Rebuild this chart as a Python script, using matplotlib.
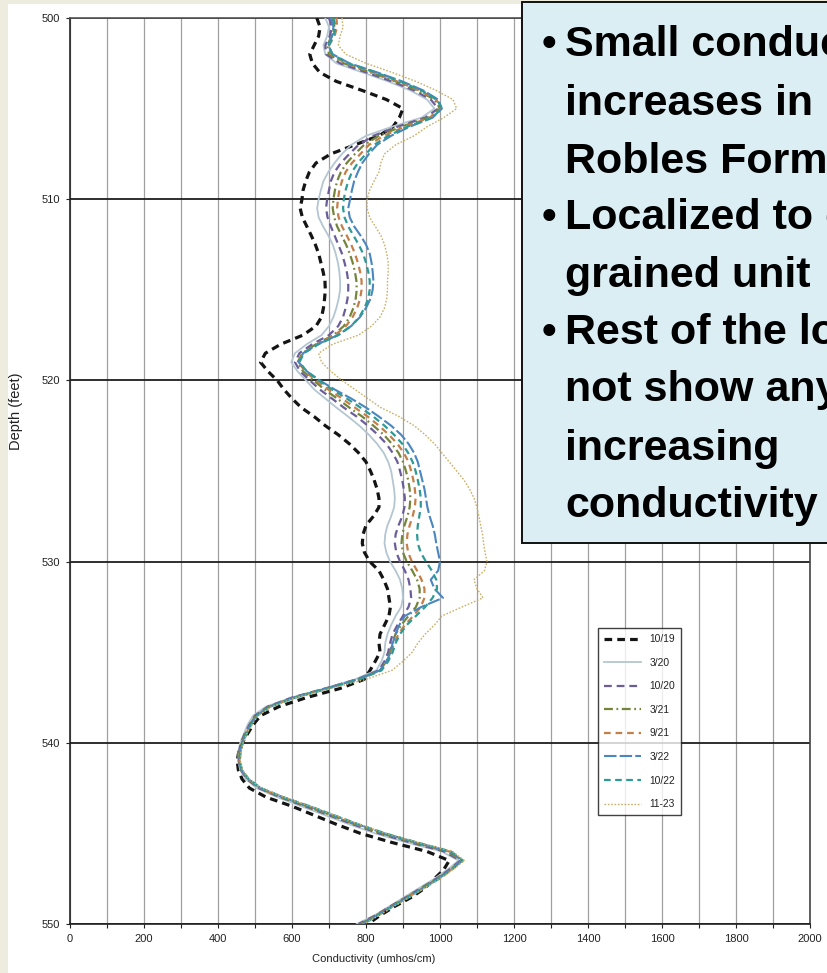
import numpy as np
import matplotlib
matplotlib.use("Agg")
import matplotlib.pyplot as plt
from matplotlib.patches import Rectangle
from matplotlib.ticker import MultipleLocator

plt.rcParams["font.family"] = ["Liberation Sans", "DejaVu Sans"]

# Depth grid of the induction log (feet below ground), one reading every half foot
depth = np.arange(500.0, 550.01, 0.5)

# Conductivity (umhos/cm) for each logging event, listed from 500 ft to 550 ft
cond_1019 = [667, 676, 672, 660, 648, 655, 675, 720, 790, 855,
             900, 890, 873, 835, 770, 705, 665, 647, 637, 630,
             627, 622, 628, 640, 652, 663, 672, 678, 684, 689,
             690, 688, 685, 680, 665, 630, 570, 528, 515, 535,
             560, 578, 600, 625, 660, 690, 725, 755, 780, 800,
             812, 822, 830, 835, 835, 820, 800, 792, 790, 796,
             810, 835, 848, 858, 862, 866, 862, 850, 838, 835,
             838, 825, 811, 795, 730, 640, 565, 515, 495, 480,
             465, 456, 452, 455, 465, 485, 530, 600, 660, 720,
             785, 870, 965, 1025, 1010, 985, 960, 925, 880, 840,
             805]

cond_320 = [690, 700, 695, 685, 690, 720, 790, 860, 920, 965,
            985, 950, 870, 800, 760, 735, 715, 698, 685, 678,
            672, 668, 672, 684, 698, 710, 718, 724, 728, 730,
            730, 726, 720, 712, 700, 680, 640, 608, 598, 615,
            638, 660, 690, 720, 752, 782, 808, 830, 848, 860,
            868, 872, 876, 878, 876, 868, 858, 852, 850, 855,
            865, 880, 892, 898, 900, 895, 880, 868, 858, 852,
            850, 842, 828, 770, 690, 600, 530, 495, 480, 470,
            460, 455, 455, 460, 475, 505, 560, 625, 690, 755,
            825, 910, 1005, 1050, 1020, 985, 945, 905, 865, 825,
            775]

cond_1020 = [700, 708, 702, 690, 692, 730, 800, 870, 930, 975,
             995, 960, 885, 820, 780, 755, 732, 715, 705, 700,
             695, 692, 696, 705, 715, 725, 735, 742, 748, 752,
             752, 750, 745, 738, 725, 700, 655, 620, 608, 622,
             648, 675, 708, 740, 775, 805, 832, 855, 872, 885,
             892, 898, 902, 905, 904, 898, 888, 880, 878, 882,
             892, 905, 915, 920, 922, 915, 900, 885, 872, 865,
             860, 850, 835, 775, 690, 600, 535, 500, 485, 472,
             462, 457, 456, 462, 478, 510, 568, 635, 700, 765,
             835, 920, 1012, 1055, 1025, 990, 950, 910, 868, 828,
             780]

cond_321 = [710, 715, 708, 695, 700, 740, 812, 880, 940, 985,
            1000, 968, 895, 835, 795, 770, 748, 732, 722, 716,
            712, 710, 714, 722, 734, 746, 756, 764, 770, 774,
            775, 772, 766, 756, 740, 712, 665, 628, 615, 630,
            658, 688, 722, 755, 790, 820, 848, 870, 888, 900,
            908, 914, 918, 920, 918, 912, 904, 898, 896, 900,
            910, 925, 938, 945, 945, 935, 915, 895, 880, 870,
            865, 855, 838, 778, 692, 605, 538, 502, 486, 474,
            464, 458, 457, 463, 480, 512, 570, 640, 705, 770,
            842, 928, 1020, 1058, 1028, 992, 952, 912, 870, 830,
            785]

cond_921 = [720, 722, 715, 700, 705, 745, 818, 885, 945, 990,
            1003, 972, 905, 848, 808, 785, 762, 745, 735, 728,
            724, 722, 726, 735, 748, 760, 770, 778, 784, 788,
            788, 784, 776, 764, 746, 716, 668, 630, 618, 635,
            665, 698, 735, 770, 805, 835, 862, 885, 902, 915,
            922, 928, 932, 934, 932, 926, 918, 912, 910, 914,
            924, 938, 950, 958, 958, 948, 928, 905, 888, 876,
            868, 858, 840, 780, 695, 608, 540, 505, 488, 476,
            466, 460, 458, 464, 481, 514, 574, 645, 710, 775,
            848, 934, 1025, 1060, 1030, 995, 955, 915, 872, 832,
            790]

cond_322 = [705, 712, 708, 698, 710, 755, 830, 898, 955, 995,
            1005, 980, 918, 868, 830, 808, 790, 778, 768, 762,
            757, 752, 756, 768, 785, 800, 810, 815, 818, 820,
            818, 812, 800, 784, 760, 724, 670, 630, 618, 640,
            675, 715, 760, 800, 835, 868, 895, 915, 930, 940,
            946, 952, 958, 962, 966, 972, 980, 986, 990, 995,
            1000, 995, 975, 985, 1008, 950, 905, 890, 880, 872,
            866, 856, 838, 778, 694, 606, 540, 504, 488, 476,
            466, 460, 458, 464, 482, 515, 575, 646, 712, 778,
            850, 936, 1028, 1060, 1030, 996, 956, 916, 873, 833,
            790]

cond_1022 = [712, 718, 712, 700, 708, 752, 825, 892, 950, 992,
             1005, 978, 912, 860, 822, 800, 778, 762, 752, 745,
             740, 738, 742, 752, 766, 780, 792, 800, 806, 810,
             810, 806, 796, 782, 760, 725, 672, 632, 620, 640,
             672, 708, 748, 785, 820, 850, 876, 898, 914, 926,
             934, 940, 945, 948, 948, 944, 940, 938, 940, 948,
             962, 978, 990, 992, 980, 960, 935, 910, 892, 880,
             872, 860, 842, 782, 698, 610, 542, 506, 490, 477,
             467, 461, 459, 465, 483, 516, 576, 648, 714, 780,
             852, 938, 1030, 1062, 1032, 998, 958, 918, 875, 835,
             792]

cond_1123 = [735, 738, 730, 725, 745, 800, 870, 935, 990, 1035,
             1045, 1010, 965, 930, 880, 850, 840, 835, 822, 810,
             803, 803, 810, 825, 840, 850, 856, 860, 860, 858,
             858, 856, 850, 838, 815, 780, 710, 672, 680, 705,
             735, 770, 805, 840, 890, 930, 960, 985, 1005, 1025,
             1045, 1065, 1080, 1092, 1100, 1105, 1110, 1115, 1118, 1122,
             1127, 1120, 1092, 1100, 1116, 1060, 1005, 985, 960, 940,
             925, 900, 870, 800, 705, 612, 545, 508, 492, 478,
             468, 462, 460, 466, 484, 518, 578, 650, 716, 782,
             855, 942, 1034, 1066, 1035, 1000, 960, 920, 878, 838,
             795]

labels = ["10/19", "3/20", "10/20", "3/21", "9/21", "3/22", "10/22", "11-23"]
series = [cond_1019, cond_320, cond_1020, cond_321, cond_921, cond_322, cond_1022, cond_1123]

# line appearance for each event
styles = [
    dict(color="#141414", lw=2.3, dashes=(2.4, 1.6)),
    dict(color="#b4c6d2", lw=1.3, linestyle="-"),
    dict(color="#6a5d9a", lw=1.6, dashes=(3.5, 2.2)),
    dict(color="#74853a", lw=1.6, dashes=(4.0, 1.6, 0.8, 1.6)),
    dict(color="#c47e48", lw=1.6, dashes=(3.0, 2.2)),
    dict(color="#4a86c0", lw=1.5, dashes=(6.0, 1.5)),
    dict(color="#2f9a95", lw=1.6, dashes=(3.0, 2.0)),
    dict(color="#c9b06a", lw=1.0, linestyle=(0, (1.2, 1.2))),
]

W, H = 827, 973
fig = plt.figure(figsize=(W / 100, H / 100), dpi=100)
fig.patch.set_facecolor("#eeebdf")
fig.patches.append(Rectangle((8 / W, 0), 1, 1 - 4 / H, transform=fig.transFigure,
                             facecolor="white", edgecolor="none", zorder=-10))

ax = fig.add_axes([70 / W, 1 - 924 / H, 740 / W, 906 / H])
ax.set_facecolor("white")
ax.set_xlim(0, 2000)
ax.set_ylim(550, 500)

ax.xaxis.set_major_locator(MultipleLocator(200))
ax.xaxis.set_minor_locator(MultipleLocator(100))
ax.yaxis.set_major_locator(MultipleLocator(10))
ax.grid(which="both", axis="x", color="#a0a0a0", lw=0.9)
ax.grid(which="major", axis="y", color="#1e1e1e", lw=1.3)
ax.set_axisbelow(True)

for spine in ax.spines.values():
    spine.set_color("#222222")
    spine.set_linewidth(1.2)
ax.spines["top"].set_color("#555555")
ax.spines["right"].set_color("#444444")

ax.tick_params(axis="both", which="major", direction="out", length=3, width=0.8,
               labelsize=8, colors="#222222", pad=4)
ax.tick_params(axis="x", which="minor", direction="out", length=3, width=0.8, colors="#222222")

for vals, lab, st in zip(series, labels, styles):
    ax.plot(vals, depth, label=lab, zorder=3, **st)

ax.set_xlabel("Conductivity (umhos/cm)", fontsize=8, color="#222222")
ax.xaxis.set_label_coords(0.411, -0.033)
ax.set_ylabel("Depth (feet)", fontsize=10.5, color="#222222")
ax.yaxis.set_label_coords(-0.064, 0.566)

leg = fig.legend(loc="upper left", bbox_to_anchor=(598 / W, 1 - 628 / H),
                 bbox_transform=fig.transFigure, fontsize=7.4, frameon=True,
                 fancybox=False, handlelength=3.6, handletextpad=0.8,
                 labelspacing=1.32, borderpad=0.6, borderaxespad=0)
leg.get_frame().set_edgecolor("#111111")
leg.get_frame().set_linewidth(1.0)
for t in leg.get_texts():
    t.set_color("#222222")

# Callout box with the interpretation notes
fig.patches.append(Rectangle((522 / W, 1 - 543 / H), 330 / W, 541 / H,
                             transform=fig.transFigure, facecolor="#dbeef4",
                             edgecolor="#111111", lw=1.4, zorder=5))

notes = [
    (True, "Small conductivity"),
    (False, "increases in Paso"),
    (False, "Robles Formation"),
    (True, "Localized to coarse-"),
    (False, "grained unit"),
    (True, "Rest of the log does"),
    (False, "not show any"),
    (False, "increasing"),
    (False, "conductivity"),
]
baselines = [56, 115, 173, 229, 287, 344, 401, 460, 517]
for (bullet, txt), yb in zip(notes, baselines):
    if bullet:
        fig.text(549 / W, 1 - yb / H, "\u2022", fontsize=30, fontweight="bold",
                 ha="center", va="baseline", color="black", zorder=6)
    fig.text(565 / W, 1 - yb / H, txt, fontsize=31, fontweight="bold",
             ha="left", va="baseline", color="black", zorder=6)

fig.savefig("out.png", dpi=100, facecolor=fig.get_facecolor())
